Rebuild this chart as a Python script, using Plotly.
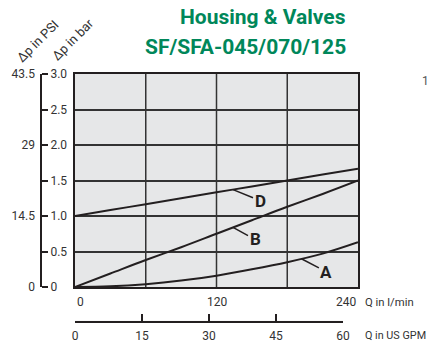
import numpy as np
import plotly.graph_objects as go

# ---- data ----
q_lpm = [0, 30, 60, 90, 120, 150, 180, 210, 240]
curve_A = [0, 0.01, 0.04, 0.09, 0.16, 0.25, 0.35, 0.47, 0.63]
curve_B = [0, 0.19, 0.38, 0.56, 0.75, 0.94, 1.13, 1.31, 1.50]
curve_D = [1.0, 1.083, 1.167, 1.25, 1.333, 1.417, 1.5, 1.583, 1.667]
curve_names = ["A", "B", "D"]
label_q = {"A": 192, "B": 134, "D": 134}
label_off = {"A": (25, 13), "B": (22, 12), "D": (27, 11)}

bar_ticks = [0, 0.5, 1.0, 1.5, 2.0, 2.5, 3.0]
bar_text = ["0", "0.5", "1.0", "1.5", "2.0", "2.5", "3.0"]
psi_ticks = [0, 1.0, 2.0, 3.0]
psi_text = ["0", "14.5", "29", "43.5"]
lpm_ticks = [0, 120, 240]
gpm_ticks = [0, 15, 30, 45, 60]
grid_x = [60, 120, 180]

W, H = 430, 344
ML, MR, MT, MB = 0, 72, 74, 4
PW, PH = W - ML - MR, H - MT - MB

def px(x):
    return (x - ML) / PW

def py(y):
    return (H - MB - y) / PH

FONT = "Roboto, Arial, sans-serif"
DARK = "#231f20"
TXT = "#333333"

fig = go.Figure()
data = {"A": curve_A, "B": curve_B, "D": curve_D}
for n in curve_names:
    fig.add_trace(go.Scatter(x=q_lpm, y=data[n], mode="lines", line=dict(color=DARK, width=2),
                             line_shape="spline", hoverinfo="skip", showlegend=False))

x_dom = [px(75), px(358)]
y_dom = [py(287), 1]
gpm_line = py(321)

fig.update_layout(
    width=W, height=H, autosize=False, margin=dict(l=ML, r=MR, t=MT, b=MB, autoexpand=False),
    paper_bgcolor="white", plot_bgcolor="#e6e7e8",
    font=dict(family=FONT, size=12, color=TXT),
    xaxis=dict(domain=x_dom, range=[0, 240], showgrid=False, zeroline=False, showticklabels=False,
               ticks="", showline=True, mirror=True, linecolor=DARK, linewidth=2, automargin=False),
    yaxis=dict(domain=y_dom, range=[0, 3], tickvals=bar_ticks, showgrid=True, gridcolor="#333",
               gridwidth=1.5, zeroline=False, showticklabels=False, ticks="", showline=True,
               mirror=True, linecolor=DARK, linewidth=2, automargin=False),
    # US GPM scale: its own axis on a zero-height strip below the chart
    xaxis2=dict(domain=[px(75), px(343)], range=[0, 60], anchor="y4", side="bottom",
                tickvals=gpm_ticks, ticks="inside", ticklen=7, tickwidth=2,
                tickcolor=DARK, showline=True, linecolor=DARK, linewidth=2, showgrid=False,
                zeroline=False, automargin=False, ticklabelstandoff=3,
                tickfont=dict(family=FONT, size=12, color=TXT)),
    yaxis4=dict(domain=[gpm_line, gpm_line + 0.001], range=[0, 1], anchor="x2", visible=False,
                showgrid=False, zeroline=False, automargin=False),
    yaxis2=dict(domain=y_dom, range=[0, 3], anchor="free", position=px(41), side="right",
                overlaying="y", tickvals=bar_ticks, ticktext=bar_text, ticks="outside", ticklen=6,
                tickwidth=2, tickcolor=DARK, showline=True, linecolor=DARK, linewidth=2,
                showgrid=False, zeroline=False, automargin=False,
                tickfont=dict(family=FONT, size=12, color=TXT)),
    yaxis3=dict(domain=y_dom, range=[0, 3], anchor="free", position=px(41), side="left",
                overlaying="y", tickvals=psi_ticks, ticktext=psi_text, ticks="", showline=False,
                showgrid=False, zeroline=False, ticklabelstandoff=6, automargin=False,
                tickfont=dict(family=FONT, size=12, color=TXT)),
)
# invisible traces to activate the extra axes
fig.add_trace(go.Scatter(x=[0], y=[0], xaxis="x2", yaxis="y4", mode="markers", opacity=0,
                         hoverinfo="skip", showlegend=False))
fig.add_trace(go.Scatter(x=[0], y=[0], xaxis="x", yaxis="y2", mode="markers", opacity=0,
                         hoverinfo="skip", showlegend=False))
fig.add_trace(go.Scatter(x=[0], y=[0], xaxis="x", yaxis="y3", mode="markers", opacity=0,
                         hoverinfo="skip", showlegend=False))

# vertical grid lines
for gx in grid_x:
    fig.add_shape(type="line", xref="x", yref="y", x0=gx, x1=gx, y0=0, y1=3,
                  line=dict(color="#333", width=1.5), layer="below")

# curve labels with leader lines
for n in curve_names:
    qx = label_q[n]
    yv = float(np.interp(qx, q_lpm, data[n]))
    ax, ay = label_off[n]
    fig.add_annotation(x=qx, y=yv, xref="x", yref="y", text="<b>%s</b>" % n, showarrow=True,
                       arrowhead=0, arrowwidth=1.5, arrowcolor=DARK, ax=ax, ay=ay,
                       font=dict(family=FONT, size=17, color=DARK))

# l/min tick labels
anchors = ["left", "center", "right"]
for v, a in zip(lpm_ticks, anchors):
    fig.add_annotation(x=v, y=py(302), xref="x", yref="paper", text=str(v), showarrow=False,
                       xanchor=a, yanchor="middle", font=dict(family=FONT, size=12, color=TXT))

fig.add_annotation(x=px(363), y=py(302), xref="paper", yref="paper", text="Q in l/min",
                   showarrow=False, xanchor="left", yanchor="middle",
                   font=dict(family=FONT, size=11.3, color=TXT))
fig.add_annotation(x=px(363), y=py(335), xref="paper", yref="paper", text="Q in US GPM",
                   showarrow=False, xanchor="left", yanchor="middle",
                   font=dict(family=FONT, size=10.8, color=TXT))

# rotated axis titles
fig.add_annotation(x=px(37), y=py(41), xref="paper", yref="paper", text="Δp in PSI",
                   textangle=-45, showarrow=False, xanchor="center", yanchor="middle",
                   font=dict(family=FONT, size=13, color=TXT))
fig.add_annotation(x=px(73), y=py(40), xref="paper", yref="paper", text="Δp in bar",
                   textangle=-45, showarrow=False, xanchor="center", yanchor="middle",
                   font=dict(family=FONT, size=13, color=TXT))

# title
GREEN = "#00875a"
fig.add_annotation(x=px(348), y=py(17), xref="paper", yref="paper", text="<b>Housing & Valves</b>",
                   showarrow=False, xanchor="right", yanchor="middle",
                   font=dict(family=FONT, size=21, color=GREEN))
fig.add_annotation(x=px(348), y=py(47), xref="paper", yref="paper", text="<b>SF/SFA-045/070/125</b>",
                   showarrow=False, xanchor="right", yanchor="middle",
                   font=dict(family=FONT, size=21, color=GREEN))

fig.add_annotation(x=px(425), y=py(81), xref="paper", yref="paper", text="1", showarrow=False,
                   xanchor="center", yanchor="middle", font=dict(family=FONT, size=12, color="#555"))

fig.write_html("out.html", config={"displayModeBar": False},
               post_script="document.body.style.margin='0';document.body.style.overflow='hidden';")
